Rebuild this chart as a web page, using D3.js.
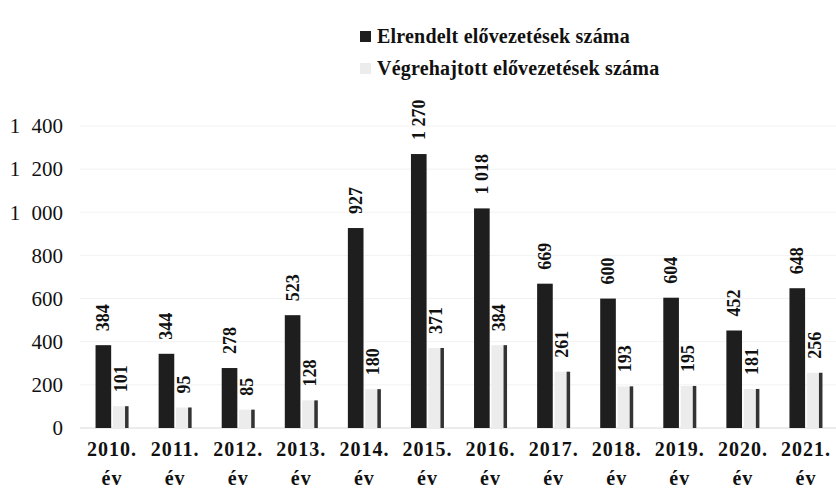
<!DOCTYPE html>
<html>
<head>
<meta charset="utf-8">
<script src="https://cdn.jsdelivr.net/npm/d3@7"></script>
<style>
  body { margin: 0; background: #fff; }
  svg { display: block; }
  svg text { font-family: "Liberation Serif", "DejaVu Serif", serif; }
</style>
</head>
<body>
<script>
// data
var years = ["2010.", "2011.", "2012.", "2013.", "2014.", "2015.", "2016.", "2017.", "2018.", "2019.", "2020.", "2021."];
var elrendelt = [384, 344, 278, 523, 927, 1270, 1018, 669, 600, 604, 452, 648];
var vegrehajtott = [101, 95, 85, 128, 180, 371, 384, 261, 193, 195, 181, 256];
var yTicks = [0, 200, 400, 600, 800, 1000, 1200, 1400];
var seriesNames = ["Elrendelt elővezetések száma", "Végrehajtott elővezetések száma"];

var Chart = function() {
  this.width = 836;
  this.height = 495;
  this.font = "Liberation Serif, DejaVu Serif, serif";
  this.dark = "#1e1e1e";
  this.light = "#ececec";
}

Chart.prototype.initialize = function() {
  var svg = d3.select("body").append("svg")
      .attr("width", this.width)
      .attr("height", this.height);

  this.x = d3.scaleBand().domain(years).range([80.5, 837.5]);
  this.y = d3.scaleLinear().domain([0, 1400]).range([428, 126]);

  this.fmt = d3.formatLocale({decimal: ",", thousands: " ", grouping: [3], currency: ["", ""]}).format(",d");

  this.drawAxes(svg);
  this.drawBars(svg);
  this.drawLegend(svg);
}

Chart.prototype.drawAxes = function(svg) {
  var self = this;

  // faint gridlines
  svg.append("g").selectAll("line")
    .data(yTicks.slice(1))
    .enter().append("line")
      .attr("x1", 80).attr("x2", 836)
      .attr("y1", function(d) { return self.y(d); })
      .attr("y2", function(d) { return self.y(d); })
      .attr("stroke", "#f2f2f2");

  var yAxis = d3.axisLeft(this.y).tickValues(yTicks).tickSize(0).tickPadding(0).tickFormat(this.fmt);
  var gy = svg.append("g").attr("transform", "translate(63,0)").call(yAxis);
  gy.attr("font-family", null);
  gy.select(".domain").remove();
  gy.selectAll("text")
    .style("font-family", this.font)
    .style("font-size", "21px")
    .style("word-spacing", "6px")
    .attr("fill", "#111");

  // baseline
  svg.append("line")
    .attr("x1", 80).attr("x2", 836)
    .attr("y1", this.y(0)).attr("y2", this.y(0))
    .attr("stroke", "#d8d8d8");

  var xAxis = d3.axisBottom(this.x).tickSize(0).tickPadding(0);
  var gx = svg.append("g").attr("transform", "translate(0," + this.y(0) + ")").call(xAxis);
  gx.attr("font-family", null);
  gx.select(".domain").remove();
  gx.selectAll(".tick text").remove();
  gx.selectAll(".tick").append("text")
    .attr("y", 28)
    .attr("text-anchor", "middle")
    .style("font-family", this.font)
    .style("font-weight", "bold")
    .style("font-size", "20px")
    .style("letter-spacing", "1px")
    .attr("fill", "#111")
    .text(function(d) { return d; });
  gx.selectAll(".tick").append("text")
    .attr("y", 57)
    .attr("text-anchor", "middle")
    .style("font-family", this.font)
    .style("font-weight", "bold")
    .style("font-size", "20px")
    .style("letter-spacing", "1px")
    .attr("fill", "#111")
    .text("év");
}

Chart.prototype.drawBars = function(svg) {
  var self = this;
  var inner = d3.scaleBand().domain([0, 1]).range([-16.5, 16.5]).paddingInner(0.1);
  var bw = inner.bandwidth();

  var groups = svg.append("g").selectAll("g")
    .data(years)
    .enter().append("g")
      .attr("transform", function(d) { return "translate(" + (self.x(d) + self.x.bandwidth() / 2) + ",0)"; });

  // ordered (dark) bars
  groups.append("rect")
    .attr("x", inner(0))
    .attr("width", bw)
    .attr("y", function(d, i) { return self.y(elrendelt[i]); })
    .attr("height", function(d, i) { return self.y(0) - self.y(elrendelt[i]); })
    .attr("fill", this.dark);

  // executed (pale) bars with the dark right edge of the scan
  groups.append("rect")
    .attr("x", inner(1))
    .attr("width", bw)
    .attr("y", function(d, i) { return self.y(vegrehajtott[i]); })
    .attr("height", function(d, i) { return self.y(0) - self.y(vegrehajtott[i]); })
    .attr("fill", this.light);
  groups.append("rect")
    .attr("x", inner(1) + bw - 3.5)
    .attr("width", 3.5)
    .attr("y", function(d, i) { return self.y(vegrehajtott[i]); })
    .attr("height", function(d, i) { return self.y(0) - self.y(vegrehajtott[i]); })
    .attr("fill", "#333");

  // rotated value labels
  var label = function(sel, values, off) {
    sel.append("text")
      .attr("transform", function(d, i) {
        return "translate(" + (off + bw / 2 + 6) + "," + (self.y(values[i]) - 14) + ") rotate(-90)";
      })
      .style("font-family", self.font)
      .style("font-weight", "bold")
      .style("font-size", "18px")
      .attr("fill", "#111")
      .text(function(d, i) { return self.fmt(values[i]); });
  }
  label(groups, elrendelt, inner(0));
  label(groups, vegrehajtott, inner(1));
}

Chart.prototype.drawLegend = function(svg) {
  var fills = [this.dark, this.light];
  var leg = svg.append("g").selectAll("g")
    .data(seriesNames)
    .enter().append("g")
      .attr("transform", function(d, i) { return "translate(360," + (43 + i * 32) + ")"; });

  leg.append("rect")
    .attr("x", 0).attr("y", -12)
    .attr("width", 11).attr("height", 11)
    .attr("fill", function(d, i) { return fills[i]; });

  leg.append("text")
    .attr("x", 17)
    .style("font-family", this.font)
    .style("font-weight", "bold")
    .style("font-size", "20px")
    .style("letter-spacing", "0.2px")
    .attr("fill", "#111")
    .text(function(d) { return d; });
}

var chart = new Chart();
chart.initialize();
</script>
</body>
</html>
